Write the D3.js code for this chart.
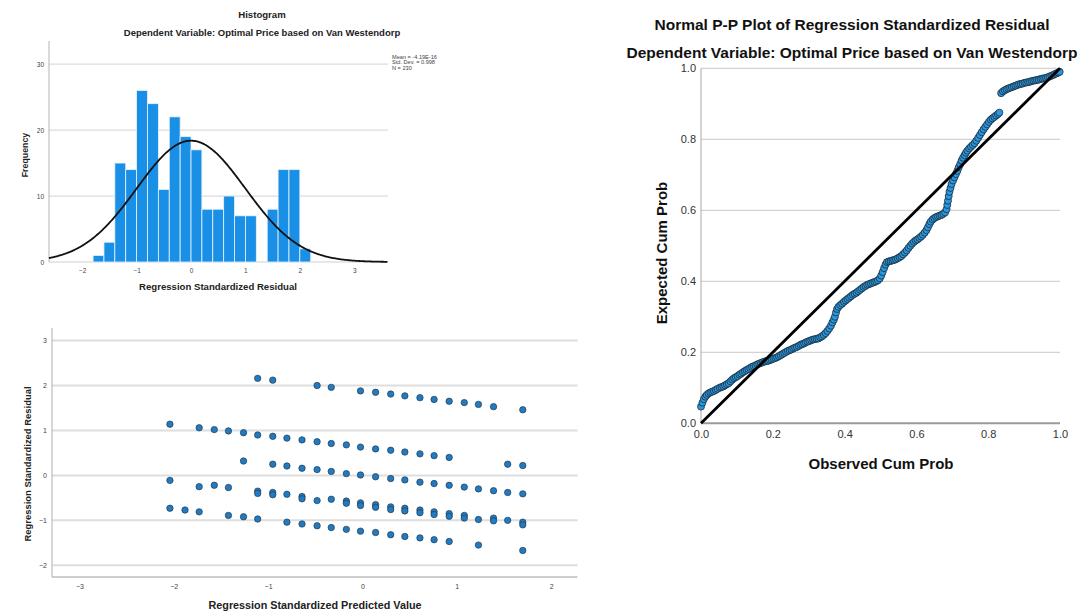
<!DOCTYPE html>
<html>
<head>
<meta charset="utf-8">
<script src="https://cdn.jsdelivr.net/npm/d3@7/dist/d3.min.js"></script>
<style>
  html, body { margin: 0; padding: 0; background: #fff; }
  svg { display: block; font-family: "Liberation Sans", Arial, sans-serif; }
</style>
</head>
<body>
<svg id="chart" width="1079" height="615"></svg>
<script>
// ---- Histogram of standardized residuals ----
const histBinStarts = [-1.8, -1.6, -1.4, -1.2, -1.0, -0.8, -0.6, -0.4, -0.2, 0.0,
                        0.2, 0.4, 0.6, 0.8, 1.0, 1.2, 1.4, 1.6, 1.8, 2.0];
const histCounts = [1, 3, 15, 14, 26, 24, 11, 22, 19, 17,
                    8, 8, 10, 7, 7, 0, 8, 14, 14, 2];
const histBinWidth = 0.2;
const histMean = 0;
const histSd = 0.998;
const histN = 230;
const histStats = ["Mean = -4.19E-16", "Std. Dev. = 0.998", "N = 230"];
const histXTicks = [-2, -1, 0, 1, 2, 3];
const histYTicks = [0, 10, 20, 30];

// ---- Scatterplot: [standardized predicted value, standardized residual] ----
const scatterPoints = [
  [-2.04, 1.14], [-2.04, -0.11], [-2.04, -0.73],
  [-1.88, -0.77],
  [-1.73, 1.06], [-1.73, -0.25], [-1.73, -0.81],
  [-1.57, 1.02], [-1.57, -0.22],
  [-1.42, 0.99], [-1.42, -0.27], [-1.42, -0.89],
  [-1.26, 0.95], [-1.26, 0.32], [-1.26, -0.92],
  [-1.11, 2.16], [-1.11, 0.90], [-1.11, -0.35], [-1.11, -0.40], [-1.11, -0.97],
  [-0.95, 2.12], [-0.95, 0.87], [-0.95, 0.25], [-0.95, -0.38], [-0.95, -0.43],
  [-0.80, 0.83], [-0.80, 0.21], [-0.80, -0.42], [-0.80, -1.04],
  [-0.64, 0.79], [-0.64, 0.16], [-0.64, -0.47], [-0.64, -0.52], [-0.64, -1.08],
  [-0.48, 2.00], [-0.48, 0.75], [-0.48, 0.13], [-0.48, -0.56], [-0.48, -1.12],
  [-0.33, 1.96], [-0.33, 0.71], [-0.33, 0.09], [-0.33, -0.53], [-0.33, -1.16],
  [-0.17, 0.68], [-0.17, 0.04], [-0.17, -0.57], [-0.17, -0.62], [-0.17, -1.20],
  [-0.02, 1.88], [-0.02, 0.63], [-0.02, 0.01], [-0.02, -0.61], [-0.02, -0.67], [-0.02, -1.24],
  [0.14, 1.85], [0.14, 0.59], [0.14, -0.03], [0.14, -0.65], [0.14, -0.71], [0.14, -1.27],
  [0.30, 1.81], [0.30, 0.56], [0.30, -0.07], [0.30, -0.70], [0.30, -0.76], [0.30, -1.32],
  [0.45, 1.77], [0.45, 0.52], [0.45, -0.10], [0.45, -0.73], [0.45, -0.79], [0.45, -1.36],
  [0.61, 1.73], [0.61, 0.48], [0.61, -0.15], [0.61, -0.77], [0.61, -0.83], [0.61, -1.39],
  [0.76, 1.69], [0.76, 0.44], [0.76, -0.18], [0.76, -0.81], [0.76, -0.87], [0.76, -1.43],
  [0.92, 1.65], [0.92, 0.40], [0.92, -0.22], [0.92, -0.85], [0.92, -0.91], [0.92, -1.47],
  [1.08, 1.62], [1.08, -0.26], [1.08, -0.89], [1.08, -0.95],
  [1.23, 1.58], [1.23, -0.30], [1.23, -0.98], [1.23, -1.55],
  [1.39, 1.53], [1.39, -0.34], [1.39, -0.95], [1.39, -1.01],
  [1.54, 0.25], [1.54, -0.38], [1.54, -1.00],
  [1.70, 1.46], [1.70, 0.22], [1.70, -0.41], [1.70, -1.04], [1.70, -1.10], [1.70, -1.67]
];
const scatterXTicks = [-3, -2, -1, 0, 1, 2];
const scatterYTicks = [-2, -1, 0, 1, 2, 3];

// ---- Normal P-P plot: observed vs expected cumulative probability ----
const ppObserved = [
  0.000, 0.004, 0.008, 0.012, 0.016, 0.021, 0.026, 0.031, 0.036, 0.041,
  0.046, 0.052, 0.057, 0.062, 0.067, 0.072, 0.077, 0.082, 0.087, 0.092,
  0.097, 0.102, 0.107, 0.112, 0.117, 0.122, 0.127, 0.132, 0.137, 0.142,
  0.147, 0.152, 0.157, 0.162, 0.167, 0.172, 0.177, 0.182, 0.187, 0.192,
  0.197, 0.202, 0.207, 0.212, 0.217, 0.222, 0.227, 0.232, 0.237, 0.242,
  0.247, 0.252, 0.257, 0.262, 0.267, 0.272, 0.277, 0.282, 0.287, 0.292,
  0.297, 0.302, 0.307, 0.312, 0.317, 0.322, 0.327, 0.332, 0.337, 0.342,
  0.347, 0.352, 0.357, 0.362, 0.366, 0.370, 0.373, 0.376, 0.379, 0.383,
  0.388, 0.393, 0.398, 0.403, 0.408, 0.413, 0.418, 0.423, 0.428, 0.433,
  0.438, 0.443, 0.448, 0.453, 0.458, 0.463, 0.468, 0.473, 0.478, 0.483,
  0.488, 0.493, 0.498, 0.502, 0.506, 0.510, 0.514, 0.518, 0.523, 0.528,
  0.533, 0.538, 0.543, 0.548, 0.553, 0.558, 0.563, 0.568, 0.573, 0.578,
  0.583, 0.588, 0.593, 0.598, 0.603, 0.608, 0.613, 0.618, 0.623, 0.628,
  0.632, 0.636, 0.640, 0.645, 0.650, 0.655, 0.660, 0.665, 0.670, 0.675,
  0.680, 0.684, 0.686, 0.688, 0.690, 0.692, 0.695, 0.698, 0.702, 0.706,
  0.710, 0.714, 0.718, 0.722, 0.726, 0.730, 0.734, 0.738, 0.742, 0.747,
  0.752, 0.757, 0.762, 0.767, 0.772, 0.777, 0.782, 0.787, 0.792, 0.797,
  0.802, 0.807, 0.812, 0.817, 0.822, 0.827, 0.831, 0.836, 0.841, 0.846,
  0.851, 0.856, 0.861, 0.866, 0.871, 0.876, 0.881, 0.886, 0.891, 0.896,
  0.901, 0.906, 0.911, 0.916, 0.921, 0.926, 0.931, 0.936, 0.941, 0.946,
  0.951, 0.956, 0.961, 0.966, 0.971, 0.976, 0.981, 0.986, 0.991, 0.995, 0.999
];
const ppExpected = [
  0.047, 0.058, 0.068, 0.075, 0.080, 0.084, 0.087, 0.089, 0.091, 0.094,
  0.097, 0.100, 0.102, 0.104, 0.107, 0.110, 0.113, 0.118, 0.123, 0.127,
  0.130, 0.133, 0.137, 0.140, 0.144, 0.147, 0.150, 0.153, 0.156, 0.159,
  0.161, 0.163, 0.166, 0.168, 0.170, 0.172, 0.174, 0.175, 0.176, 0.178,
  0.180, 0.182, 0.184, 0.186, 0.189, 0.192, 0.195, 0.198, 0.201, 0.204,
  0.206, 0.208, 0.211, 0.213, 0.215, 0.218, 0.221, 0.223, 0.225, 0.228,
  0.230, 0.232, 0.234, 0.236, 0.237, 0.238, 0.239, 0.242, 0.245, 0.249,
  0.254, 0.260, 0.267, 0.275, 0.284, 0.292, 0.300, 0.312, 0.322, 0.328,
  0.333, 0.337, 0.342, 0.346, 0.350, 0.354, 0.358, 0.362, 0.365, 0.368,
  0.372, 0.376, 0.380, 0.384, 0.387, 0.390, 0.392, 0.394, 0.396, 0.398,
  0.400, 0.403, 0.408, 0.416, 0.426, 0.437, 0.447, 0.454, 0.456, 0.457,
  0.459, 0.460, 0.462, 0.465, 0.468, 0.471, 0.476, 0.481, 0.487, 0.494,
  0.500, 0.506, 0.511, 0.515, 0.518, 0.522, 0.526, 0.531, 0.537, 0.544,
  0.552, 0.561, 0.568, 0.574, 0.578, 0.581, 0.583, 0.585, 0.587, 0.590,
  0.594, 0.603, 0.615, 0.627, 0.640, 0.652, 0.663, 0.674, 0.684, 0.693,
  0.702, 0.711, 0.721, 0.730, 0.740, 0.748, 0.755, 0.762, 0.768, 0.774,
  0.779, 0.784, 0.789, 0.796, 0.804, 0.812, 0.820, 0.828, 0.835, 0.842,
  0.849, 0.855, 0.859, 0.863, 0.867, 0.871, 0.875, 0.930, 0.935, 0.938,
  0.941, 0.943, 0.945, 0.947, 0.949, 0.951, 0.953, 0.955, 0.956, 0.957,
  0.959, 0.960, 0.961, 0.962, 0.964, 0.965, 0.966, 0.967, 0.968, 0.970,
  0.971, 0.972, 0.973, 0.975, 0.977, 0.979, 0.981, 0.984, 0.986, 0.988, 0.990
];
const ppTicks = [0, 0.2, 0.4, 0.6, 0.8, 1.0];

const FONT = '"Liberation Sans", Arial, sans-serif';
const svg = d3.select("#chart");

function gridLines(g, ticks, y, x0, x1, color, width) {
  g.selectAll(null).data(ticks).join("line")
    .attr("x1", x0).attr("x2", x1)
    .attr("y1", d => y(d)).attr("y2", d => y(d))
    .attr("stroke", color).attr("stroke-width", width);
}

// ================= Histogram =================
{
  const x = d3.scaleLinear().domain([-2.61, 3.62]).range([49, 388]);
  const y = d3.scaleLinear().domain([0, 33.5]).range([262, 41]);
  const g = svg.append("g");

  gridLines(g, histYTicks.filter(d => d > 0), y, x.range()[0], x.range()[1], "#dcdcdc", 1.3);

  // axes
  g.append("line").attr("x1", x.range()[0]).attr("x2", x.range()[0])
    .attr("y1", y.range()[1]).attr("y2", y(0)).attr("stroke", "#b5b5b5").attr("stroke-width", 1);
  g.append("line").attr("x1", x.range()[0]).attr("x2", x.range()[1])
    .attr("y1", y(0)).attr("y2", y(0)).attr("stroke", "#cfcfcf").attr("stroke-width", 1.2);

  const ax = d3.axisBottom(x).tickValues(histXTicks).tickSize(0).tickPadding(6).tickFormat(d3.format("d"));
  g.append("g").attr("transform", `translate(0,${y(0)})`).call(ax)
    .call(s => s.select(".domain").remove())
    .selectAll("text").attr("font-size", 6.5).attr("fill", "#444").attr("font-family", FONT);
  const ay = d3.axisLeft(y).tickValues(histYTicks).tickSize(0).tickPadding(5).tickFormat(d3.format("d"));
  g.append("g").attr("transform", `translate(${x.range()[0]},0)`).call(ay)
    .call(s => s.select(".domain").remove())
    .selectAll("text").attr("font-size", 6.5).attr("fill", "#444").attr("font-family", FONT);

  // bars
  g.selectAll("rect.bar").data(histBinStarts.map((s, i) => ({ s, c: histCounts[i] })).filter(d => d.c > 0))
    .join("rect").attr("class", "bar")
    .attr("x", d => x(d.s)).attr("width", d => x(d.s + histBinWidth) - x(d.s))
    .attr("y", d => y(d.c)).attr("height", d => y(0) - y(d.c))
    .attr("fill", "#1a8fe6").attr("stroke", "#e8f3fc").attr("stroke-width", 0.8);

  // fitted normal curve
  const xs = d3.range(x.domain()[0], x.domain()[1] + 0.001, 0.02);
  const pdf = v => histN * histBinWidth * Math.exp(-0.5 * ((v - histMean) / histSd) ** 2) / (histSd * Math.sqrt(2 * Math.PI));
  g.append("path").datum(xs)
    .attr("d", d3.line().x(d => x(d)).y(d => y(pdf(d))).curve(d3.curveBasis))
    .attr("fill", "none").attr("stroke", "#111").attr("stroke-width", 1.8);

  // titles
  g.append("text").attr("x", 262).attr("y", 18).attr("text-anchor", "middle")
    .attr("font-size", 9.6).attr("font-weight", "bold").attr("fill", "#222").text("Histogram");
  g.append("text").attr("x", 262).attr("y", 36).attr("text-anchor", "middle")
    .attr("font-size", 9.5).attr("font-weight", "bold").attr("fill", "#222")
    .text("Dependent Variable: Optimal Price based on Van Westendorp");
  g.append("text").attr("x", 218).attr("y", 290).attr("text-anchor", "middle")
    .attr("font-size", 9.6).attr("font-weight", "bold").attr("fill", "#222")
    .text("Regression Standardized Residual");
  g.append("text").attr("transform", "translate(28,155) rotate(-90)").attr("text-anchor", "middle")
    .attr("font-size", 8.8).attr("font-weight", "bold").attr("fill", "#222").text("Frequency");

  g.selectAll("text.stat").data(histStats).join("text").attr("class", "stat")
    .attr("x", 392).attr("y", (d, i) => 58.5 + i * 5.6)
    .attr("font-size", 5.6).attr("fill", "#444").text(d => d);
}

// ================= Scatterplot =================
{
  const x = d3.scaleLinear().domain([-3.29, 2.28]).range([52, 577.5]);
  const y = d3.scaleLinear().domain([-2.26, 3.28]).range([577, 328]);
  const g = svg.append("g");

  gridLines(g, scatterYTicks, y, x.range()[0], x.range()[1], "#dedede", 2);

  g.append("line").attr("x1", x.range()[0]).attr("x2", x.range()[0])
    .attr("y1", y.range()[1]).attr("y2", y.range()[0]).attr("stroke", "#bdbdbd").attr("stroke-width", 1.2);
  g.append("line").attr("x1", x.range()[0]).attr("x2", x.range()[1])
    .attr("y1", y.range()[0]).attr("y2", y.range()[0]).attr("stroke", "#bdbdbd").attr("stroke-width", 1.6);

  const ax = d3.axisBottom(x).tickValues(scatterXTicks).tickSize(0).tickPadding(7).tickFormat(d3.format("d"));
  g.append("g").attr("transform", `translate(0,${y.range()[0]})`).call(ax)
    .call(s => s.select(".domain").remove())
    .selectAll("text").attr("font-size", 7).attr("fill", "#444").attr("font-family", FONT);
  const ay = d3.axisLeft(y).tickValues(scatterYTicks).tickSize(0).tickPadding(5).tickFormat(d3.format("d"));
  g.append("g").attr("transform", `translate(${x.range()[0]},0)`).call(ay)
    .call(s => s.select(".domain").remove())
    .selectAll("text").attr("font-size", 7).attr("fill", "#444").attr("font-family", FONT);

  g.selectAll("circle").data(scatterPoints).join("circle")
    .attr("cx", d => x(d[0])).attr("cy", d => y(d[1])).attr("r", 3.2)
    .attr("fill", "#1f7bc4").attr("stroke", "#2a3a48").attr("stroke-width", 0.7);

  g.append("text").attr("x", 315).attr("y", 609).attr("text-anchor", "middle")
    .attr("font-size", 10.8).attr("font-weight", "bold").attr("fill", "#222")
    .text("Regression Standardized Predicted Value");
  g.append("text").attr("transform", "translate(31,464) rotate(-90)").attr("text-anchor", "middle")
    .attr("font-size", 9.5).attr("font-weight", "bold").attr("fill", "#222")
    .attr("textLength", 155).attr("lengthAdjust", "spacingAndGlyphs")
    .text("Regression Standardized Residual");
}

// ================= Normal P-P plot =================
{
  const x = d3.scaleLinear().domain([0, 1]).range([701, 1060]);
  const y = d3.scaleLinear().domain([0, 1]).range([423.3, 68.3]);
  const g = svg.append("g");

  gridLines(g, ppTicks.filter(d => d > 0), y, x.range()[0], x.range()[1], "#c8c8c8", 1);

  g.append("line").attr("x1", x(0)).attr("x2", x(0))
    .attr("y1", y(1)).attr("y2", y(0)).attr("stroke", "#aaaaaa").attr("stroke-width", 1);
  g.append("line").attr("x1", x(0)).attr("x2", x(1))
    .attr("y1", y(0)).attr("y2", y(0)).attr("stroke", "#9a9a9a").attr("stroke-width", 2);

  const fmt = d3.format(".1f");
  const ax = d3.axisBottom(x).tickValues(ppTicks).tickSize(0).tickPadding(7).tickFormat(fmt);
  g.append("g").attr("transform", `translate(0,${y(0)})`).call(ax)
    .call(s => s.select(".domain").remove())
    .selectAll("text").attr("font-size", 11).attr("fill", "#333").attr("font-family", FONT);
  const ay = d3.axisLeft(y).tickValues(ppTicks).tickSize(0).tickPadding(5).tickFormat(fmt);
  g.append("g").attr("transform", `translate(${x(0)},0)`).call(ay)
    .call(s => s.select(".domain").remove())
    .selectAll("text").attr("font-size", 11).attr("fill", "#333").attr("font-family", FONT);

  const pts = ppObserved.map((o, i) => [o, ppExpected[i]]);
  g.selectAll("circle").data(pts).join("circle")
    .attr("cx", d => x(d[0])).attr("cy", d => y(d[1])).attr("r", 3.5)
    .attr("fill", "#2a98e0").attr("stroke", "#1c2a36").attr("stroke-width", 0.8);

  // reference diagonal
  g.append("line").attr("x1", x(0)).attr("y1", y(0)).attr("x2", x(1)).attr("y2", y(1))
    .attr("stroke", "#000").attr("stroke-width", 2.8);

  g.append("text").attr("x", 852).attr("y", 30).attr("text-anchor", "middle")
    .attr("font-size", 15.5).attr("font-weight", "bold").attr("fill", "#111")
    .text("Normal P-P Plot of Regression Standardized Residual");
  g.append("text").attr("x", 852).attr("y", 58).attr("text-anchor", "middle")
    .attr("font-size", 15.5).attr("font-weight", "bold").attr("fill", "#111")
    .text("Dependent Variable: Optimal Price based on Van Westendorp");
  g.append("text").attr("x", 881).attr("y", 469).attr("text-anchor", "middle")
    .attr("font-size", 15).attr("font-weight", "bold").attr("fill", "#111")
    .text("Observed Cum Prob");
  g.append("text").attr("transform", "translate(667,253) rotate(-90)").attr("text-anchor", "middle")
    .attr("font-size", 15).attr("font-weight", "bold").attr("fill", "#111")
    .text("Expected Cum Prob");
}
</script>
</body>
</html>
